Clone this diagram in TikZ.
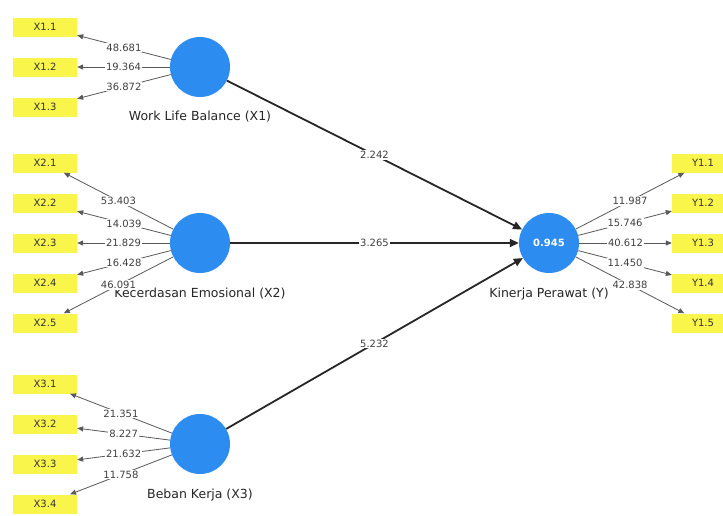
\documentclass[tikz,border=0pt]{standalone}
\usepackage{fontspec}
\setmainfont{DejaVu Sans}
\usetikzlibrary{arrows.meta}
\definecolor{lvblue}{RGB}{45,140,240}
\definecolor{indyel}{RGB}{250,245,75}
\begin{document}
\begin{tikzpicture}[x=1pt,y=-1pt,
 lv/.style={circle,fill=lvblue,minimum size=60pt,inner sep=0pt},
 ind/.style={rectangle,fill=indyel,minimum width=64pt,minimum height=19pt,inner sep=0pt,font=\fontsize{10}{12}\selectfont,text=black!80},
 indr/.style={ind,minimum width=62pt},
 lvname/.style={font=\fontsize{12.5}{14}\selectfont,text=black!85,inner sep=1pt},
 num/.style={fill=white,inner sep=1pt,font=\fontsize{10}{12}\selectfont,text=black!75},
 outarrow/.style={draw=black!65,line width=0.8pt,-{Triangle[length=6pt,width=5pt]}},
 inarrow/.style={draw=black!85,line width=1.8pt,-{Triangle[length=9pt,width=8pt]}},
]
\useasboundingbox[fill=white] (0,0) rectangle (723,515);

% latent variables
\node[lv] (c1) at (200,67) {};
\node[lv] (c2) at (200,243) {};
\node[lv] (c3) at (200,444) {};
\node[lv,font=\fontsize{10}{12}\selectfont\bfseries,text=white] (cy) at (549,243) {0.945};

% names
\node[lvname] (n1) at (200,117) {Work Life Balance (X1)};
\node[lvname] (n2) at (200,294) {Kecerdasan Emosional (X2)};
\node[lvname] (n3) at (200,495) {Beban Kerja (X3)};
\node[lvname] (ny) at (549,294) {Kinerja Perawat (Y)};

% indicators
\node[ind] (x11) at (45,27) {X1.1};
\node[ind] (x12) at (45,67) {X1.2};
\node[ind] (x13) at (45,107) {X1.3};
\node[ind] (x21) at (45,163) {X2.1};
\node[ind] (x22) at (45,203) {X2.2};
\node[ind] (x23) at (45,243) {X2.3};
\node[ind] (x24) at (45,283) {X2.4};
\node[ind] (x25) at (45,323) {X2.5};
\node[ind] (x31) at (45,384) {X3.1};
\node[ind] (x32) at (45,424) {X3.2};
\node[ind] (x33) at (45,464) {X3.3};
\node[ind] (x34) at (45,504) {X3.4};
\node[indr] (y1) at (703,163) {Y1.1};
\node[indr] (y2) at (703,203) {Y1.2};
\node[indr] (y3) at (703,243) {Y1.3};
\node[indr] (y4) at (703,283) {Y1.4};
\node[indr] (y5) at (703,323) {Y1.5};

% outer loadings
\draw[outarrow] (c1) -- node[num]{48.681} (x11);
\draw[outarrow] (c1) -- node[num]{19.364} (x12);
\draw[outarrow] (c1) -- node[num]{36.872} (x13);
\draw[outarrow] (c2) -- node[num]{53.403} (x21);
\draw[outarrow] (c2) -- node[num]{14.039} (x22);
\draw[outarrow] (c2) -- node[num]{21.829} (x23);
\draw[outarrow] (c2) -- node[num]{16.428} (x24);
\draw[outarrow] (c2) -- node[num]{46.091} (x25);
\draw[outarrow] (c3) -- node[num]{21.351} (x31);
\draw[outarrow] (c3) -- node[num]{8.227} (x32);
\draw[outarrow] (c3) -- node[num]{21.632} (x33);
\draw[outarrow] (c3) -- node[num]{11.758} (x34);
\draw[outarrow] (cy) -- node[num]{11.987} (y1);
\draw[outarrow] (cy) -- node[num]{15.746} (y2);
\draw[outarrow] (cy) -- node[num]{40.612} (y3);
\draw[outarrow] (cy) -- node[num]{11.450} (y4);
\draw[outarrow] (cy) -- node[num]{42.838} (y5);

% inner paths
\draw[inarrow] (c1) -- node[num]{2.242} (cy);
\draw[inarrow] (c2) -- node[num]{3.265} (cy);
\draw[inarrow] (c3) -- node[num]{5.232} (cy);
\end{tikzpicture}
\end{document}
